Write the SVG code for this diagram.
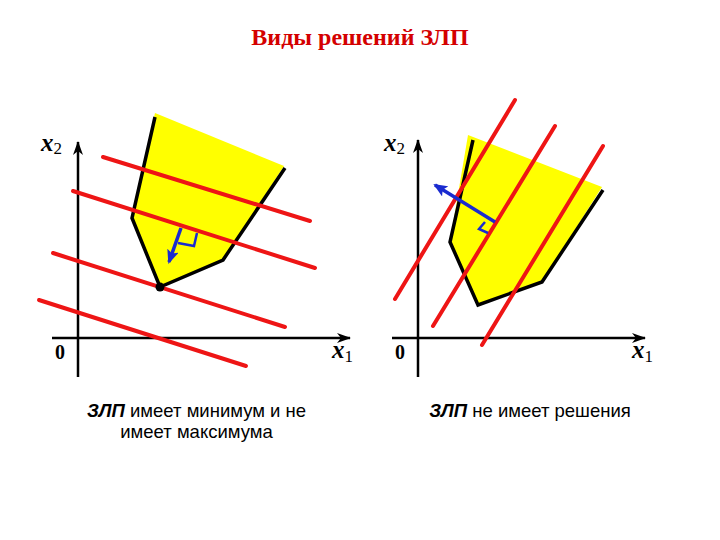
<svg xmlns="http://www.w3.org/2000/svg" width="720" height="540" viewBox="0 0 720 540">
<style>
.title{font-family:"Liberation Serif",serif;font-weight:bold;font-size:24px;fill:#d40000}
.lbl{font-family:"Liberation Serif",serif;font-weight:bold;font-style:italic;font-size:25px;fill:#000}
.sub{font-family:"Liberation Serif",serif;font-size:17px;fill:#000}
.zero{font-family:"Liberation Serif",serif;font-weight:bold;font-size:20px;fill:#000}
.cap{font-family:"Liberation Sans",Arial,sans-serif;font-size:18.5px;fill:#000;text-anchor:middle}
.cap .em{font-style:italic;font-weight:bold}
.axis{stroke:#000;stroke-width:2.5;fill:none}
.red{stroke:#ee1515;stroke-width:4;stroke-linecap:round;fill:none}
.bnd{stroke:#000;stroke-width:3.5;fill:none;stroke-linejoin:miter}
.fill{fill:#ffff00;stroke:none}
.blue{stroke:#1a2bd0;stroke-width:3.5;fill:none}
.ra{stroke:#1a2bd0;stroke-width:2.5;fill:none}
</style>
<defs>
<marker id="ax" viewBox="0 0 14 10" refX="13" refY="5" markerWidth="14" markerHeight="10" markerUnits="userSpaceOnUse" orient="auto">
<path d="M0,0 L14,5 L0,10 L4,5 z" fill="#000"/>
</marker>
<marker id="bl" viewBox="0 0 14 12" refX="12" refY="6" markerWidth="14" markerHeight="12" markerUnits="userSpaceOnUse" orient="auto">
<path d="M0,0 L14,6 L0,12 L3,6 z" fill="#1a2bd0"/>
</marker>
</defs>
<text class="title" x="360" y="45" text-anchor="middle">Виды решений ЗЛП</text>

<g id="left-panel">
<g id="left-region">
<polygon class="fill" points="155,113 284,166 223,260 160,287 132,218"/>
<polyline class="bnd" points="155,117 132,218 160,287 223,260 285,168"/>
</g>
<g id="left-axes">
<line class="axis" x1="78" y1="377" x2="78" y2="142" marker-end="url(#ax)"/>
<line class="axis" x1="52" y1="338" x2="350" y2="338" marker-end="url(#ax)"/>
<text class="lbl" x="41" y="151">x<tspan class="sub" dy="3" font-style="normal" font-weight="normal">2</tspan></text>
<text class="lbl" x="332" y="358">x<tspan class="sub" dy="4" font-style="normal" font-weight="normal">1</tspan></text>
<text class="zero" x="55" y="359">0</text>
</g>
<g id="left-lines">
<line class="red" x1="103" y1="157" x2="310" y2="221"/>
<line class="red" x1="73" y1="191" x2="315" y2="268"/>
<line class="red" x1="53" y1="253" x2="285" y2="327"/>
<line class="red" x1="39" y1="300" x2="246" y2="366"/>
</g>
<g id="left-gradient">
<line class="blue" x1="181" y1="228" x2="169" y2="262" marker-end="url(#bl)"/>
<polyline class="ra" points="178,243 194,246 197,233"/>
</g>
<circle id="min-point" cx="160" cy="287" r="4.5" fill="#000"/>
<text class="cap" x="196.5" y="417"><tspan class="em">ЗЛП</tspan> имеет минимум и не</text>
<text class="cap" x="196.5" y="438">имеет максимума</text>
</g>

<g id="right-panel">
<g id="right-region">
<polygon class="fill" points="468,135 602,187 542,282 478,305 450,242"/>
<polyline class="bnd" points="473,140 450,242 478,305 542,282 603,190"/>
</g>
<g id="right-axes">
<line class="axis" x1="418" y1="377" x2="418" y2="140" marker-end="url(#ax)"/>
<line class="axis" x1="392" y1="338" x2="645" y2="338" marker-end="url(#ax)"/>
<text class="lbl" x="384" y="151">x<tspan class="sub" dy="3" font-style="normal" font-weight="normal">2</tspan></text>
<text class="lbl" x="632" y="358">x<tspan class="sub" dy="4" font-style="normal" font-weight="normal">1</tspan></text>
<text class="zero" x="395" y="359">0</text>
</g>
<g id="right-lines">
<line class="red" x1="395" y1="299" x2="515" y2="100"/>
<line class="red" x1="433" y1="326" x2="555" y2="126"/>
<line class="red" x1="482" y1="345" x2="603" y2="146"/>
</g>
<g id="right-gradient">
<line class="blue" x1="495" y1="222" x2="435" y2="185" marker-end="url(#bl)"/>
<polyline class="ra" points="485,222 479,229 488,233"/>
</g>
<text class="cap" x="530" y="417"><tspan class="em">ЗЛП</tspan> не имеет решения</text>
</g>
</svg>
